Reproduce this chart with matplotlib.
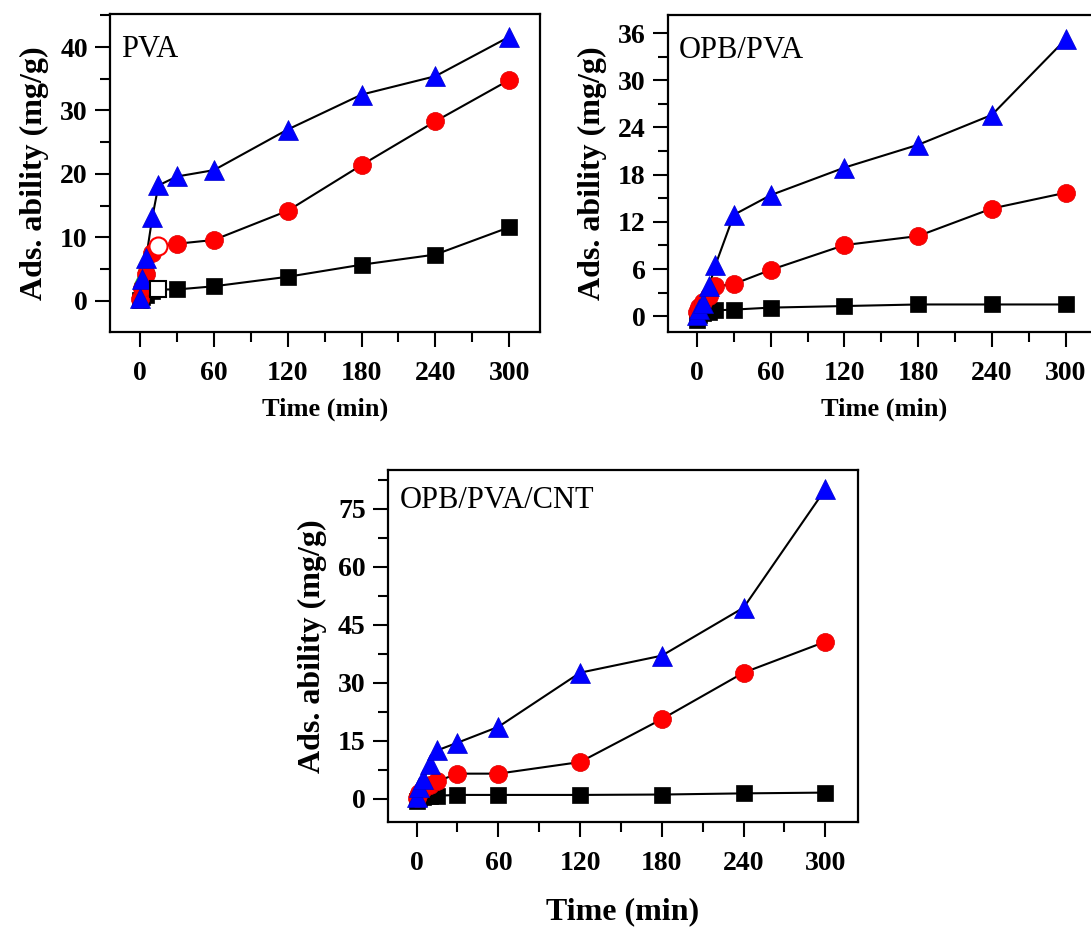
import matplotlib
matplotlib.use("Agg")
import matplotlib.pyplot as plt
from matplotlib.ticker import MultipleLocator

plt.rcParams['font.family'] = ['Liberation Serif', 'DejaVu Serif']

# sampling times (min)
times = [0, 2, 5, 10, 15, 30, 60, 120, 180, 240, 300]

# PVA
pva_black = [0.2, 0.6, 1.0, 1.5, 1.8, 1.8, 2.3, 3.8, 5.7, 7.3, 11.6]
pva_red = [0.3, 2.0, 4.3, 7.5, 8.6, 9.0, 9.6, 14.2, 21.4, 28.3, 34.8]
pva_blue = [0.5, 3.5, 6.8, 13.2, 18.2, 19.6, 20.6, 27.0, 32.5, 35.4, 41.6]
pva_green_t = [2, 5]
pva_green = [4.0, 6.0]

# OPB/PVA
opb_black = [-0.5, 0.2, 0.4, 0.6, 0.75, 0.85, 1.1, 1.3, 1.5, 1.5, 1.5]
opb_red = [0.5, 1.2, 1.8, 2.6, 3.8, 4.1, 5.9, 9.05, 10.2, 13.7, 15.7]
opb_blue = [0.1, 0.9, 1.7, 3.9, 6.5, 12.9, 15.4, 18.9, 21.8, 25.6, 35.2]

# OPB/PVA/CNT
cnt_black = [-0.5, 0.2, 0.5, 0.7, 0.8, 1.0, 1.0, 1.0, 1.1, 1.4, 1.6]
cnt_red = [0.3, 1.5, 2.5, 3.5, 4.5, 6.5, 6.5, 9.5, 20.6, 32.6, 40.6]
cnt_blue = [0.5, 3.0, 5.0, 9.0, 12.5, 14.5, 18.6, 32.6, 37.0, 49.4, 80.0]

W, H = 1091, 930


def box(l, t, r, b):
    return [l / W, 1 - b / H, (r - l) / W, (b - t) / H]


def draw(ax, black, red, blue, label, label_y, xlim, ylim, ymaj, ymin,
         xlab_size, xlab_pad):
    ax.plot(times, black, '-', color='black', lw=1.5, zorder=1)
    ax.plot(times, red, '-', color='black', lw=1.5, zorder=1)
    ax.plot(times, blue, '-', color='black', lw=1.5, zorder=1)
    ax.plot(times, black, 's', color='black', ms=11, mec='black', mew=0.5, zorder=3)
    ax.plot(times, red, 'o', color='red', ms=13, mec='#e00000', mew=0.5, zorder=3)
    ax.plot(times, blue, '^', color='blue', ms=14, mec='#0000d0', mew=0.5, zorder=4)

    ax.set_xlim(*xlim)
    ax.set_ylim(*ylim)
    ax.xaxis.set_major_locator(MultipleLocator(60))
    ax.xaxis.set_minor_locator(MultipleLocator(30))
    ax.yaxis.set_major_locator(MultipleLocator(ymaj))
    ax.yaxis.set_minor_locator(MultipleLocator(ymin))
    ax.tick_params(which='both', direction='out', top=False, right=False, width=1.5)
    ax.tick_params(which='major', length=11)
    ax.tick_params(which='minor', length=7)
    ax.tick_params(axis='x', pad=10)
    ax.tick_params(axis='y', pad=5)
    for lab in ax.get_xticklabels() + ax.get_yticklabels():
        lab.set_fontsize(20)
        lab.set_fontweight('bold')
    for sp in ax.spines.values():
        sp.set_linewidth(1.6)
    ax.set_xlabel('Time (min)', fontsize=xlab_size, fontweight='bold', labelpad=xlab_pad)
    ax.set_ylabel('Ads. ability (mg/g)', fontsize=23, fontweight='bold', labelpad=8)
    ax.text(0.025, label_y, label, transform=ax.transAxes, fontsize=22,
            va='top', ha='left')


fig = plt.figure(figsize=(W / 100, H / 100), dpi=100)

ax1 = fig.add_axes(box(110, 14, 540, 332))
# faint green markers hidden in the early cluster of the PVA panel
ax1.plot(pva_green_t, pva_green, '^', color='#33cc33', ms=11, zorder=2)
draw(ax1, pva_black, pva_red, pva_blue, 'PVA', 0.935,
     (-24.4, 325), (-4.9, 45.2), 10, 5, 19, 8)
# open markers at 15 min in the PVA panel
ax1.plot(times[4], pva_red[4], 'o', mfc='white', mec='red', ms=13, mew=1.5, zorder=5)
ax1.plot(times[4], pva_black[4], 's', mfc='white', mec='black', ms=11, mew=1.5, zorder=5)

ax2 = fig.add_axes(box(668, 15, 1100, 332))
draw(ax2, opb_black, opb_red, opb_blue, 'OPB/PVA', 0.935,
     (-23.6, 328), (-2.0, 38.3), 6, 3, 19, 8)

ax3 = fig.add_axes(box(388, 470, 858, 822))
draw(ax3, cnt_black, cnt_red, cnt_blue, 'OPB/PVA/CNT', 0.955,
     (-21, 324), (-6, 85), 15, 7.5, 23, 15)

fig.savefig('out.png', dpi=100)
